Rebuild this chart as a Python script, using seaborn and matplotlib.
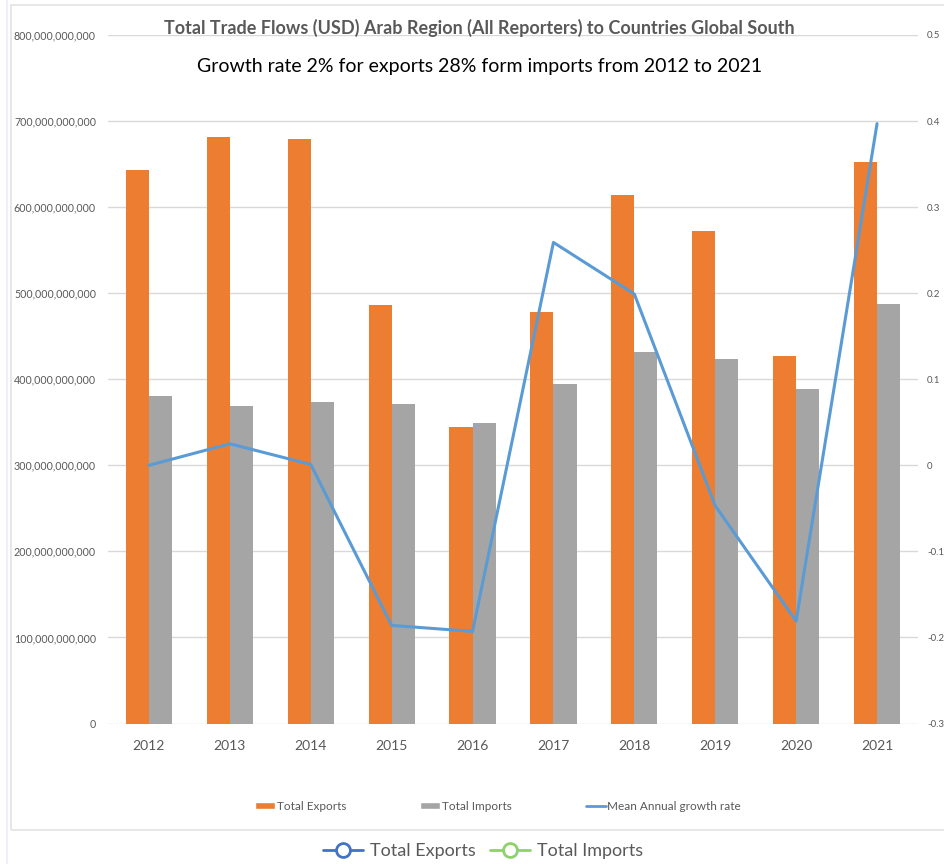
import matplotlib
matplotlib.use('Agg')
import matplotlib.pyplot as plt
import numpy as np
import pandas as pd
import seaborn as sns
from matplotlib.lines import Line2D
from matplotlib.patches import Patch, Rectangle
from matplotlib.ticker import FuncFormatter, FixedLocator

YEARS = ['2012', '2013', '2014', '2015', '2016', '2017', '2018', '2019', '2020', '2021']
TOTAL_EXPORTS = [643e9, 682e9, 679e9, 486e9, 344e9, 478e9, 614e9, 572e9, 427e9, 653e9]
TOTAL_IMPORTS = [380e9, 369e9, 373e9, 371e9, 349e9, 394e9, 432e9, 423e9, 389e9, 487e9]
GROWTH_RATE = [0.0, 0.025, 0.001, -0.186, -0.193, 0.259, 0.199, -0.047, -0.181, 0.397]
RIGHT_TICKS = [-0.3, -0.2, -0.1, 0, 0.1, 0.2, 0.3, 0.4, 0.5]
RIGHT_LABELS = ['-0.3', '-0.2', '-0.1', '0', '0.1', '0.2', '0.3', '0.4', '0.5']

TITLE = 'Total Trade Flows (USD) Arab Region (All Reporters) to Countries Global South'
SUBTITLE = 'Growth rate 2% for exports 28% form imports from 2012 to 2021'

ORANGE = '#ED7D31'
GREY = '#A5A5A5'
BLUE = '#5B9BD5'
TEXT = '#595959'
GRID = '#D9D9D9'

sns.set_theme(style='white')
plt.rcParams['font.family'] = ['Lato', 'DejaVu Sans']

long = pd.DataFrame({
    'Year': YEARS * 2,
    'Value': TOTAL_EXPORTS + TOTAL_IMPORTS,
    'Flow': ['Total Exports'] * len(YEARS) + ['Total Imports'] * len(YEARS),
})

fig = plt.figure(figsize=(9.45, 8.64), dpi=100)
ax = fig.add_axes([0.1148, 0.1626, 0.8561, 0.7969])

sns.barplot(data=long, x='Year', y='Value', hue='Flow',
            palette=[ORANGE, GREY], saturation=1, width=0.57, gap=0,
            linewidth=0, ax=ax, legend=False)
ax.set_ylim(0, 800e9)
ax.set_xlim(-0.5, len(YEARS) - 0.5)
ax.yaxis.set_major_locator(FixedLocator(np.arange(0, 801e9, 100e9)))
ax.yaxis.set_major_formatter(FuncFormatter(lambda v, p: f'{int(round(v)):,}'))
ax.grid(axis='y', color=GRID, linewidth=1)
ax.set_axisbelow(True)
for side in ('top', 'right', 'left', 'bottom'):
    ax.spines[side].set_visible(False)
ax.set_xlabel('')
ax.set_ylabel('')
ax.tick_params(axis='y', length=0, pad=9, labelsize=7.7, labelcolor=TEXT)
ax.tick_params(axis='x', length=0, pad=12, labelsize=10, labelcolor=TEXT)

ax2 = ax.twinx()
sns.lineplot(x=np.arange(len(YEARS)), y=GROWTH_RATE, color=BLUE,
             linewidth=2.2, ax=ax2)
ax2.set_ylim(-0.3, 0.5)
ax2.yaxis.set_major_locator(FixedLocator(RIGHT_TICKS))
ax2.set_yticklabels(RIGHT_LABELS)
ax2.tick_params(axis='y', length=0, pad=7, labelsize=7, labelcolor=TEXT)
for side in ('top', 'right', 'left', 'bottom'):
    ax2.spines[side].set_visible(False)
ax2.set_ylabel('')

fig.text(0.507, 0.968, TITLE, ha='center', va='center', fontsize=13,
         fontweight='bold', color=TEXT)
fig.text(0.508, 0.923, SUBTITLE, ha='center', va='center', fontsize=14,
         color='black')

# chart frame
fig.add_artist(Rectangle((11 / 945, 1 - 830 / 864), 1.0, (830 - 5) / 864,
                         transform=fig.transFigure, fill=False,
                         edgecolor='#E3E3E3', linewidth=1.2))
fig.add_artist(Line2D([7 / 945, 7 / 945], [0, 1], transform=fig.transFigure,
                      color='#EEF0F8', linewidth=1.5))

handles = [
    Patch(facecolor=ORANGE, label='Total Exports'),
    Patch(facecolor=GREY, label='Total Imports'),
    Line2D([], [], color=BLUE, linewidth=2, label='Mean Annual growth rate'),
]
fig.legend(handles=handles, loc='center', bbox_to_anchor=(0.527, 1 - 806 / 864),
           ncol=3, frameon=False, fontsize=8.5, labelcolor=TEXT,
           handlelength=1.7, handleheight=0.6, handletextpad=0.1,
           columnspacing=6.3)

bottom_handles = [
    Line2D([], [], color='#4472C4', linewidth=2, marker='o', markersize=10,
           markerfacecolor='white', markeredgewidth=2, label='Total Exports'),
    Line2D([], [], color='#8FD16B', linewidth=2, marker='o', markersize=10,
           markerfacecolor='white', markeredgewidth=2, label='Total Imports'),
]
fig.legend(handles=bottom_handles, loc='center',
           bbox_to_anchor=(0.511, 1 - 851 / 864), ncol=2, frameon=False,
           fontsize=13, labelcolor=TEXT, handlelength=2.2, handletextpad=0.4,
           columnspacing=0.8)

fig.savefig('out.png', dpi=100)
